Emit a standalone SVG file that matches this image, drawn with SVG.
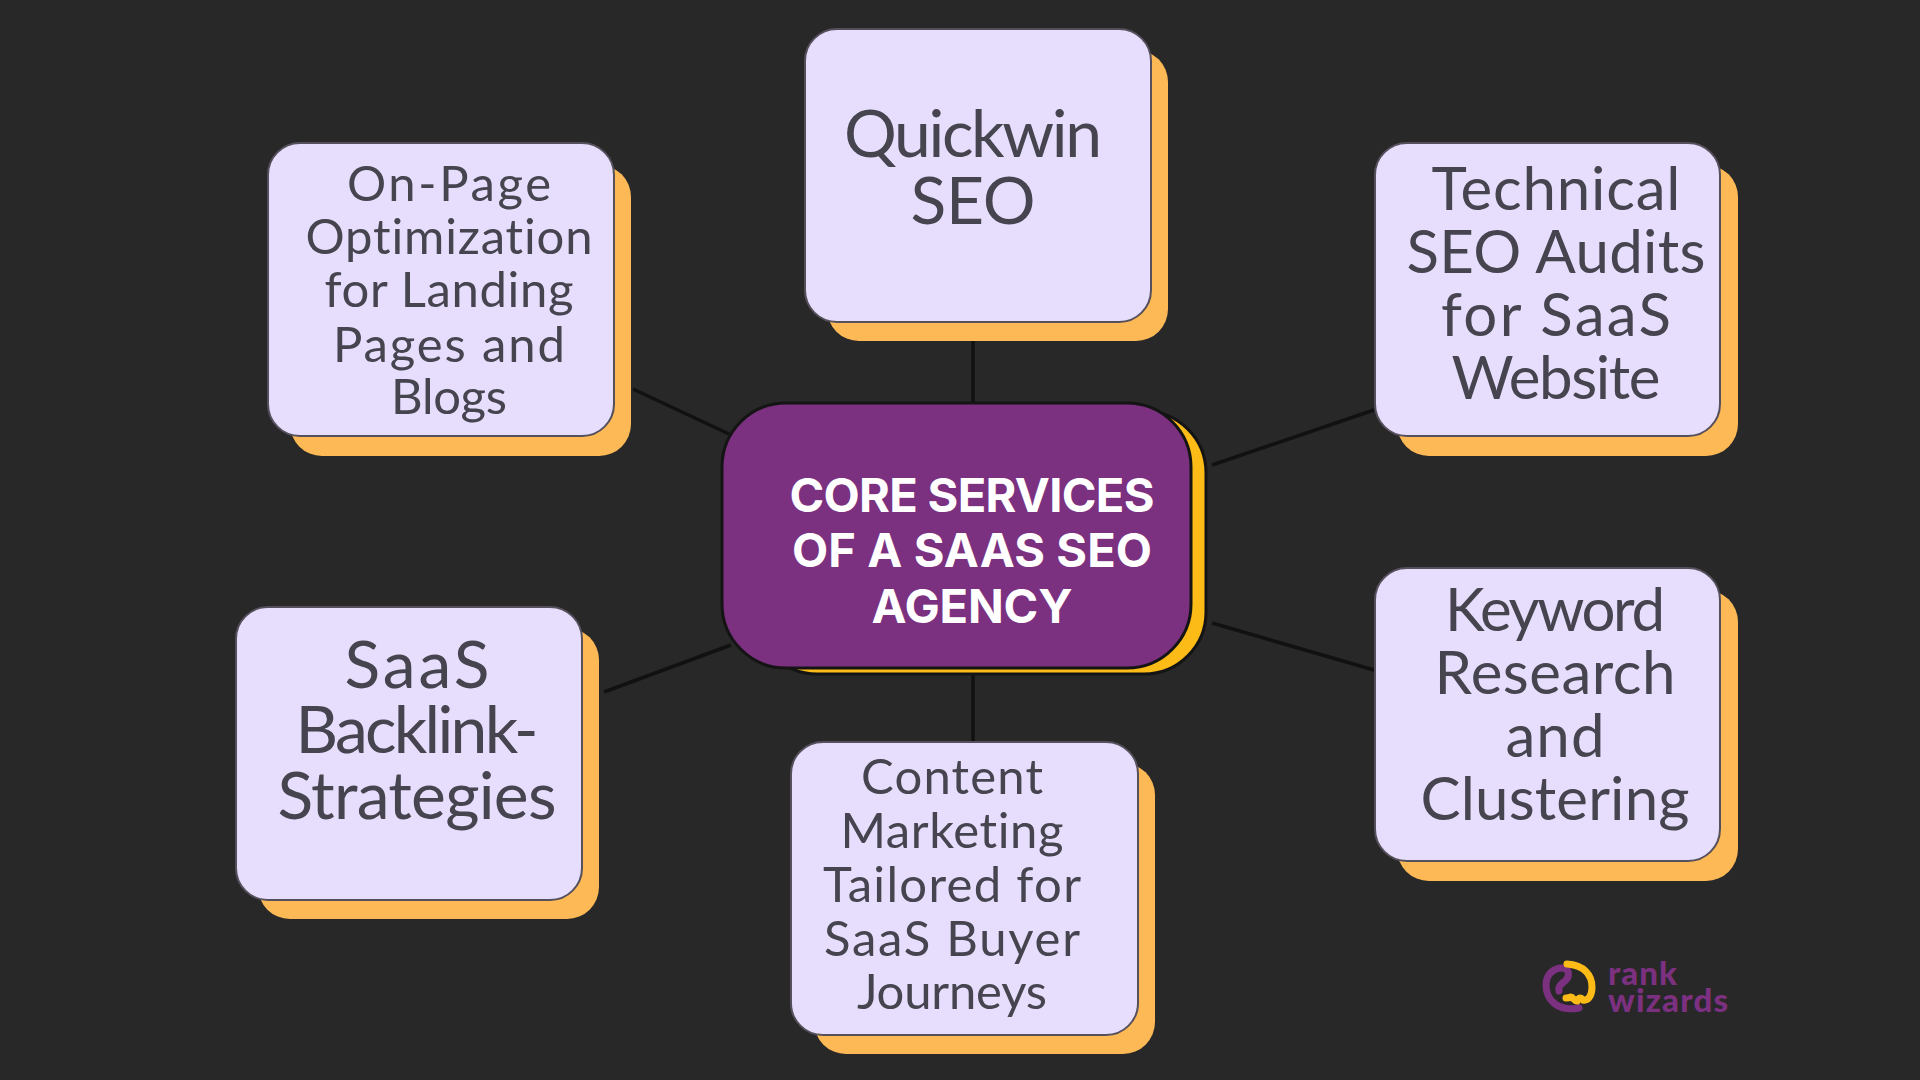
<svg xmlns="http://www.w3.org/2000/svg" width="1920" height="1080" viewBox="0 0 1920 1080">
<style>
.bg{fill:#282828}
.card{fill:#E7DEFD;stroke:#55505c;stroke-width:2}
.shadow{fill:#FDB956}
.line{stroke:#111;stroke-width:3.5;fill:none}
.t{font-family:"Lato","Noto Sans",sans-serif;fill:#45444f;text-anchor:middle;font-variant-ligatures:none}
.s48{font-size:49px}
.s58{font-size:60px}
.s66{font-size:66px}
.c{font-family:"Inter","Liberation Sans",sans-serif;font-weight:700;font-size:47px;fill:#fff;text-anchor:middle}
.lg{font-family:"Lato","Noto Sans",sans-serif;font-weight:900;font-size:33px;fill:#7B3080;font-variant-ligatures:none}
</style>
<rect class="bg" width="1920" height="1080"/>
<g id="connectors">
<line class="line" x1="973" y1="340" x2="973" y2="403"/>
<line class="line" x1="973" y1="668" x2="973" y2="742"/>
<line class="line" x1="633" y1="389" x2="729" y2="434"/>
<line class="line" x1="1212" y1="465" x2="1374" y2="410"/>
<line class="line" x1="1212" y1="623" x2="1374" y2="670"/>
<line class="line" x1="604" y1="692" x2="731" y2="645"/>
</g>
<g id="node-quickwin">
<rect class="shadow" x="827" y="50" width="341" height="291" rx="32"/>
<rect class="card" x="805" y="29" width="346" height="293" rx="32"/>
<text class="t s66" x="973" y="157" textLength="258">Quickwin</text>
<text class="t s66" x="973" y="224" textLength="125">SEO</text>
</g>
<g id="node-onpage">
<rect class="shadow" x="290" y="165" width="341" height="291" rx="32"/>
<rect class="card" x="268" y="143" width="346" height="293" rx="32"/>
<text class="t s48" x="449" y="201" textLength="204">On-Page</text>
<text class="t s48" x="449" y="254" textLength="287">Optimization</text>
<text class="t s48" x="449" y="307" textLength="249">for Landing</text>
<text class="t s48" x="449" y="362" textLength="232">Pages and</text>
<text class="t s48" x="449" y="414" textLength="116">Blogs</text>
</g>
<g id="node-technical">
<rect class="shadow" x="1397" y="165" width="341" height="291" rx="32"/>
<rect class="card" x="1375" y="143" width="345" height="293" rx="32"/>
<text class="t s58" x="1556" y="210" textLength="249">Technical</text>
<text class="t s58" x="1556" y="273" textLength="299">SEO Audits</text>
<text class="t s58" x="1556" y="336" textLength="230">for SaaS</text>
<text class="t s58" x="1556" y="399" textLength="209">Website</text>
</g>
<g id="node-keyword">
<rect class="shadow" x="1397" y="590" width="341" height="291" rx="32"/>
<rect class="card" x="1375" y="568" width="345" height="293" rx="32"/>
<text class="t s58" x="1555" y="631" textLength="220">Keyword</text>
<text class="t s58" x="1555" y="694" textLength="241">Research</text>
<text class="t s58" x="1555" y="757" textLength="99">and</text>
<text class="t s58" x="1555" y="820" textLength="269">Clustering</text>
</g>
<g id="node-content">
<rect class="shadow" x="814" y="763" width="341" height="291" rx="32"/>
<rect class="card" x="791" y="742" width="347" height="293" rx="32"/>
<text class="t s48" x="952" y="794" textLength="182">Content</text>
<text class="t s48" x="952" y="848" textLength="223">Marketing</text>
<text class="t s48" x="952" y="902" textLength="258">Tailored for</text>
<text class="t s48" x="952" y="956" textLength="256">SaaS Buyer</text>
<text class="t s48" x="952" y="1009" textLength="190">Journeys</text>
</g>
<g id="node-backlink">
<rect class="shadow" x="258" y="628" width="341" height="291" rx="32"/>
<rect class="card" x="236" y="607" width="346" height="293" rx="32"/>
<text class="t s66" x="417" y="688" textLength="145">SaaS</text>
<text class="t s66" x="417" y="753" textLength="243">Backlink-</text>
<text class="t s66" x="417" y="819" textLength="279">Strategies</text>
</g>
<g id="node-core">
<rect x="755" y="411" width="451" height="263" rx="62" fill="#FCBB16" stroke="#141414" stroke-width="3"/>
<rect x="722" y="403" width="469" height="265" rx="64" fill="#7B3080" stroke="#141414" stroke-width="3"/>
<text class="c" x="972" y="512" textLength="365">CORE SERVICES</text>
<text class="c" x="972" y="567" textLength="360">OF A SAAS SEO</text>
<text class="c" x="972" y="623" textLength="201">AGENCY</text>
</g>
<g id="logo">
<path d="M1579 1008C1558 1012 1546 1000 1546 985C1546 973 1555 968 1562 968C1570 968 1570 977 1565 981C1561 984 1558 986 1559 991" fill="none" stroke="#7B3080" stroke-width="7" stroke-linecap="round"/>
<path d="M1567 964C1584 965 1592 975 1592 987C1592 996 1588 1001 1583 1000C1580 996 1578 999 1577 1001C1574 1001 1573 997 1571 997C1569 998 1567 998 1566 998" fill="none" stroke="#FCBB16" stroke-width="7" stroke-linecap="round"/>
<text class="lg" x="1608" y="985" textLength="69">rank</text>
<text class="lg" x="1608" y="1012" textLength="120">wizards</text>
</g>
</svg>
